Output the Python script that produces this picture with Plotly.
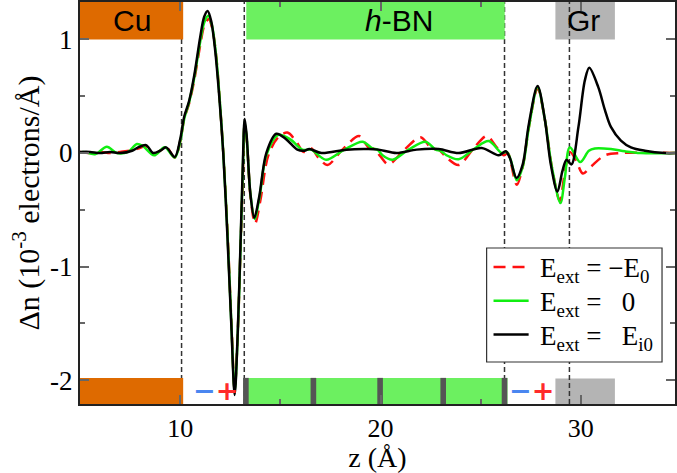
import plotly.graph_objects as go

# --- charge-density difference profiles along z (Å) ---
z_neg = [5.0, 5.5, 6.0, 6.5, 7.0, 7.5, 7.9, 8.3, 8.7, 9.3, 9.73, 10.0, 10.2, 10.45, 10.7, 11.0,
         11.2, 11.42, 11.6, 11.8, 11.98, 12.17, 12.37, 12.56, 12.72, 12.87, 13.02, 13.12, 13.22,
         13.33, 13.52, 13.74, 14.0, 14.4, 14.9, 15.35, 15.8, 16.15, 16.55, 16.9, 17.35, 18.1,
         18.93, 19.4, 19.7, 20.0, 20.4, 21.2, 22.0, 22.55, 22.9, 23.3, 23.9, 24.6, 25.3, 25.8,
         26.15, 26.35, 26.5, 26.8, 27.1, 27.4, 27.84, 28.2, 28.55, 28.95, 29.2, 29.45, 29.75,
         30.1, 30.5, 31.2, 32.0, 34.7]
dn_neg = [0.01, 0.0, 0.01, 0.0, 0.01, 0.02, 0.04, 0.06, -0.01, 0.05, -0.04, 0.1, 0.3, 0.44, 0.64,
          0.95, 1.12, 1.18, 1.1, 0.85, 0.45, -0.05, -0.72, -1.5, -2.08, -1.6, -0.8, -0.25, 0.25,
          0.1, -0.4, -0.62, -0.42, -0.02, 0.14, 0.18, 0.1, 0.01, 0.04, -0.04, -0.105, 0.03,
          0.15, 0.05, 0.035, -0.03, -0.1, 0.03, 0.14, 0.04, 0.03, -0.04, -0.105, 0.03, 0.15, 0.05,
          -0.02, 0.0, -0.08, -0.28, -0.12, 0.22, 0.57, 0.3, -0.12, -0.42, -0.17, 0.01, -0.06,
          -0.18, -0.12, -0.02, 0.0, 0.0]

z_zero = [5.0, 5.15, 5.75, 6.34, 6.84, 7.4, 7.84, 8.15, 8.7, 9.23, 9.73, 10.0, 10.2, 10.45, 10.7,
          11.0, 11.2, 11.4, 11.58, 11.78, 11.97, 12.16, 12.36, 12.55, 12.72, 12.87, 13.02, 13.12,
          13.22, 13.32, 13.5, 13.72, 13.97, 14.3, 14.9, 15.5, 16.1, 16.55, 16.9, 17.3, 18.2, 19.1,
          19.6, 19.85, 20.1, 20.6, 21.4, 22.25, 22.75, 23.0, 23.3, 23.9, 24.7, 25.4, 26.05, 26.3,
          26.5, 26.8, 27.1, 27.4, 27.84, 28.2, 28.55, 28.98, 29.2, 29.45, 29.97, 30.4, 30.7, 31.5,
          32.2, 33.0, 34.7]
dn_zero = [0.0, 0.01, -0.01, 0.055, 0.0, 0.01, 0.08, 0.06, -0.02, 0.05, -0.04, 0.1, 0.3, 0.45,
           0.66, 0.98, 1.15, 1.21, 1.13, 0.88, 0.48, -0.02, -0.7, -1.48, -2.1, -1.62, -0.78, -0.2,
           0.27, 0.13, -0.35, -0.58, -0.38, -0.02, 0.16, 0.12, 0.03, 0.03, -0.02, -0.06, 0.03, 0.1,
           0.04, 0.03, -0.02, -0.06, 0.03, 0.1, 0.03, 0.02, -0.02, -0.055, 0.04, 0.105, 0.0, 0.01,
           -0.06, -0.24, -0.12, 0.22, 0.58, 0.3, -0.12, -0.44, -0.22, 0.05, -0.08, 0.02, 0.04,
           0.035, 0.015, 0.0, 0.0]

z_pos = [5.0, 5.5, 6.0, 6.5, 7.0, 7.6, 7.9, 8.3, 8.65, 9.0, 9.3, 9.73, 10.0, 10.2, 10.45, 10.7,
         11.0, 11.2, 11.37, 11.55, 11.75, 11.95, 12.15, 12.35, 12.55, 12.72, 12.87, 13.02, 13.12,
         13.22, 13.32, 13.5, 13.7, 13.95, 14.3, 14.8, 15.3, 15.85, 16.2, 16.45, 17.05, 18.3, 19.4,
         19.9, 20.8, 21.8, 22.9, 23.9, 25.05, 25.9, 26.25, 26.45, 26.79, 27.1, 27.4, 27.84, 28.2,
         28.5, 28.83, 29.08, 29.28, 29.53, 29.88, 30.2, 30.42, 30.87, 31.2, 31.5, 32.0, 32.5,
         33.2, 34.2, 34.7]
dn_pos = [0.01, 0.01, 0.0, 0.01, 0.0, 0.02, 0.05, 0.07, 0.0, 0.02, 0.05, -0.035, 0.12, 0.32, 0.46,
          0.68, 1.02, 1.2, 1.25, 1.16, 0.9, 0.5, 0.0, -0.7, -1.5, -2.13, -1.6, -0.75, -0.15, 0.3,
          0.15, -0.35, -0.57, -0.38, 0.0, 0.17, 0.12, 0.03, 0.02, 0.035, 0.0, 0.03, 0.035, 0.03,
          0.0, 0.03, 0.035, 0.0, 0.045, -0.02, 0.015, -0.04, -0.22, -0.1, 0.25, 0.59, 0.3, -0.1,
          -0.34, -0.16, -0.06, -0.1, 0.23, 0.64, 0.75, 0.58, 0.38, 0.23, 0.11, 0.05, 0.02, 0.0, 0.0]

series_labels = [
    "E<sub>ext</sub> = \u2212E<sub>0</sub>",
    "E<sub>ext</sub> =\u00a0\u00a0\u00a00",
    "E<sub>ext</sub> =\u00a0\u00a0\u00a0E<sub>i0</sub>",
]

# --- structure markers ---
interfaces = [10.07, 13.2, 26.19, 29.43]          # dashed vertical lines
hbn_layers = [13.28, 16.65, 19.98, 23.13, 26.19]  # BN planes (dark dividers)
cu_span = [5.0, 10.15]
hbn_span_top = [13.3, 26.2]
hbn_span_bottom = [13.16, 26.34]
gr_span = [28.73, 31.7]
region_labels = ["Cu", "<i>h</i>-BN", "Gr"]
region_label_z = [7.6, 20.9, 30.15]
dipole_z = [11.74, 27.54]   # centres of the (−,+) interface dipoles

X_RANGE = [5.0, 34.7]
Y_RANGE = [-2.21, 1.33]
TOP_BAR = [1.0, 1.33]
BOT_BAR = [-2.21, -1.98]

ORANGE = "#de6a00"
GREEN_BAR = "#6cf060"
GRAY_BAR = "#b4b4b4"
DIVIDER = "#555555"
MINUS_COL = "#4a86f0"
PLUS_COL = "#ff2a2a"

line_styles = [
    dict(color="#ff1010", width=2.5, dash="12px,7px"),
    dict(color="#11ee11", width=2.5, dash="solid"),
    dict(color="black", width=2.5, dash="solid"),
]

fig = go.Figure()
for zs, vs, st, lab in zip([z_neg, z_zero, z_pos], [dn_neg, dn_zero, dn_pos],
                           line_styles, series_labels):
    fig.add_trace(go.Scatter(x=zs, y=vs, mode="lines", name=lab, showlegend=False,
                             line=dict(shape="spline", smoothing=0.9, **st)))

shapes = []


def rect(x0, x1, y0, y1, color):
    return dict(type="rect", xref="x", yref="y", x0=x0, x1=x1, y0=y0, y1=y1,
                fillcolor=color, line=dict(width=0), layer="below")


# gray graphene blocks sit under the dashed line
shapes.append(rect(gr_span[0], gr_span[1], TOP_BAR[0], TOP_BAR[1], GRAY_BAR))
shapes.append(rect(gr_span[0], gr_span[1], BOT_BAR[0], BOT_BAR[1] - 0.005, GRAY_BAR))
for zi in interfaces:
    shapes.append(dict(type="line", xref="x", yref="y", x0=zi, x1=zi, y0=Y_RANGE[0], y1=Y_RANGE[1],
                       line=dict(color="#333333", width=1.5, dash="5px,3px"), layer="below"))
# copper and h-BN blocks
shapes.append(rect(cu_span[0], cu_span[1], TOP_BAR[0], TOP_BAR[1], ORANGE))
shapes.append(rect(cu_span[0], cu_span[1], BOT_BAR[0], BOT_BAR[1], ORANGE))
shapes.append(rect(hbn_span_top[0], hbn_span_top[1], TOP_BAR[0], TOP_BAR[1], GREEN_BAR))
shapes.append(rect(hbn_span_bottom[0], hbn_span_bottom[1], BOT_BAR[0], BOT_BAR[1], GREEN_BAR))
for zl in hbn_layers:
    shapes.append(rect(zl - 0.14, zl + 0.14, BOT_BAR[0], BOT_BAR[1], DIVIDER))

annotations = []
for txt, zc in zip(region_labels, region_label_z):
    annotations.append(dict(x=zc, y=1.163, xref="x", yref="y", text=txt, showarrow=False,
                            font=dict(family="Liberation Sans, Arial", size=30, color="black")))

# induced dipole charges at the interfaces
for zc in dipole_z:
    annotations.append(dict(
        x=zc, y=-2.09, xref="x", yref="y", showarrow=False,
        text="<b><span style='color:%s'>\u2212</span><span style='color:%s'>+</span></b>"
             % (MINUS_COL, PLUS_COL),
        font=dict(family="DejaVu Sans", size=27, color=PLUS_COL)))

serif = "Liberation Serif, Times New Roman, serif"

# framed key in the lower right of the plotting area (paper coordinates)
key_x0, key_x1, key_y0, key_y1 = 0.6834, 0.9782, 0.1045, 0.388
shapes.append(dict(type="rect", xref="paper", yref="paper", x0=key_x0, x1=key_x1,
                   y0=key_y0, y1=key_y1, fillcolor="white",
                   line=dict(color="#333333", width=1.2), layer="above"))
row_y = [0.333, 0.249, 0.165]
for ry, st, lab in zip(row_y, line_styles, series_labels):
    shapes.append(dict(type="line", xref="paper", yref="paper", x0=0.695, x1=0.754,
                       y0=ry + 0.008, y1=ry + 0.008, line=st, layer="above"))
    annotations.append(dict(x=0.769, y=ry, xref="paper", yref="paper", text=lab,
                            showarrow=False, xanchor="left", yanchor="middle",
                            font=dict(family=serif, size=27, color="black")))

fig.update_layout(
    width=677, height=473,
    margin=dict(l=80, r=0, t=2, b=69),
    paper_bgcolor="white", plot_bgcolor="white",
    font=dict(family=serif, size=27, color="black"),
    shapes=shapes, annotations=annotations,
    showlegend=False,
)

fig.update_xaxes(
    range=X_RANGE, showgrid=False, zeroline=False,
    showline=True, linecolor="#222222", linewidth=2, mirror="ticks",
    ticks="inside", ticklen=9, tickwidth=1.5, tickcolor="#666666",
    tickvals=[10, 20, 30], ticktext=["10", "20", "30"],
    minor=dict(tickvals=[15, 25], ticks="inside", ticklen=5, tickwidth=1.5, tickcolor="#666666"),
    tickfont=dict(family=serif, size=26),
    title=dict(text="z (Å)", font=dict(family=serif, size=28), standoff=9),
)
fig.update_yaxes(
    range=Y_RANGE, showgrid=False, zeroline=False,
    showline=True, linecolor="#222222", linewidth=2, mirror="ticks",
    ticks="inside", ticklen=9, tickwidth=1.5, tickcolor="#666666",
    tickvals=[-2, -1, 0, 1], ticktext=["-2", "-1", "0", "1"],
    minor=dict(tickvals=[-1.5, -0.5, 0.5], ticks="inside", ticklen=5, tickwidth=1.5,
               tickcolor="#666666"),
    tickfont=dict(family=serif, size=27),
    title=dict(text="\u0394n (10<sup>-3</sup> electrons/Å)", font=dict(family=serif, size=30),
               standoff=2),
)

fig.write_html("out.html")
